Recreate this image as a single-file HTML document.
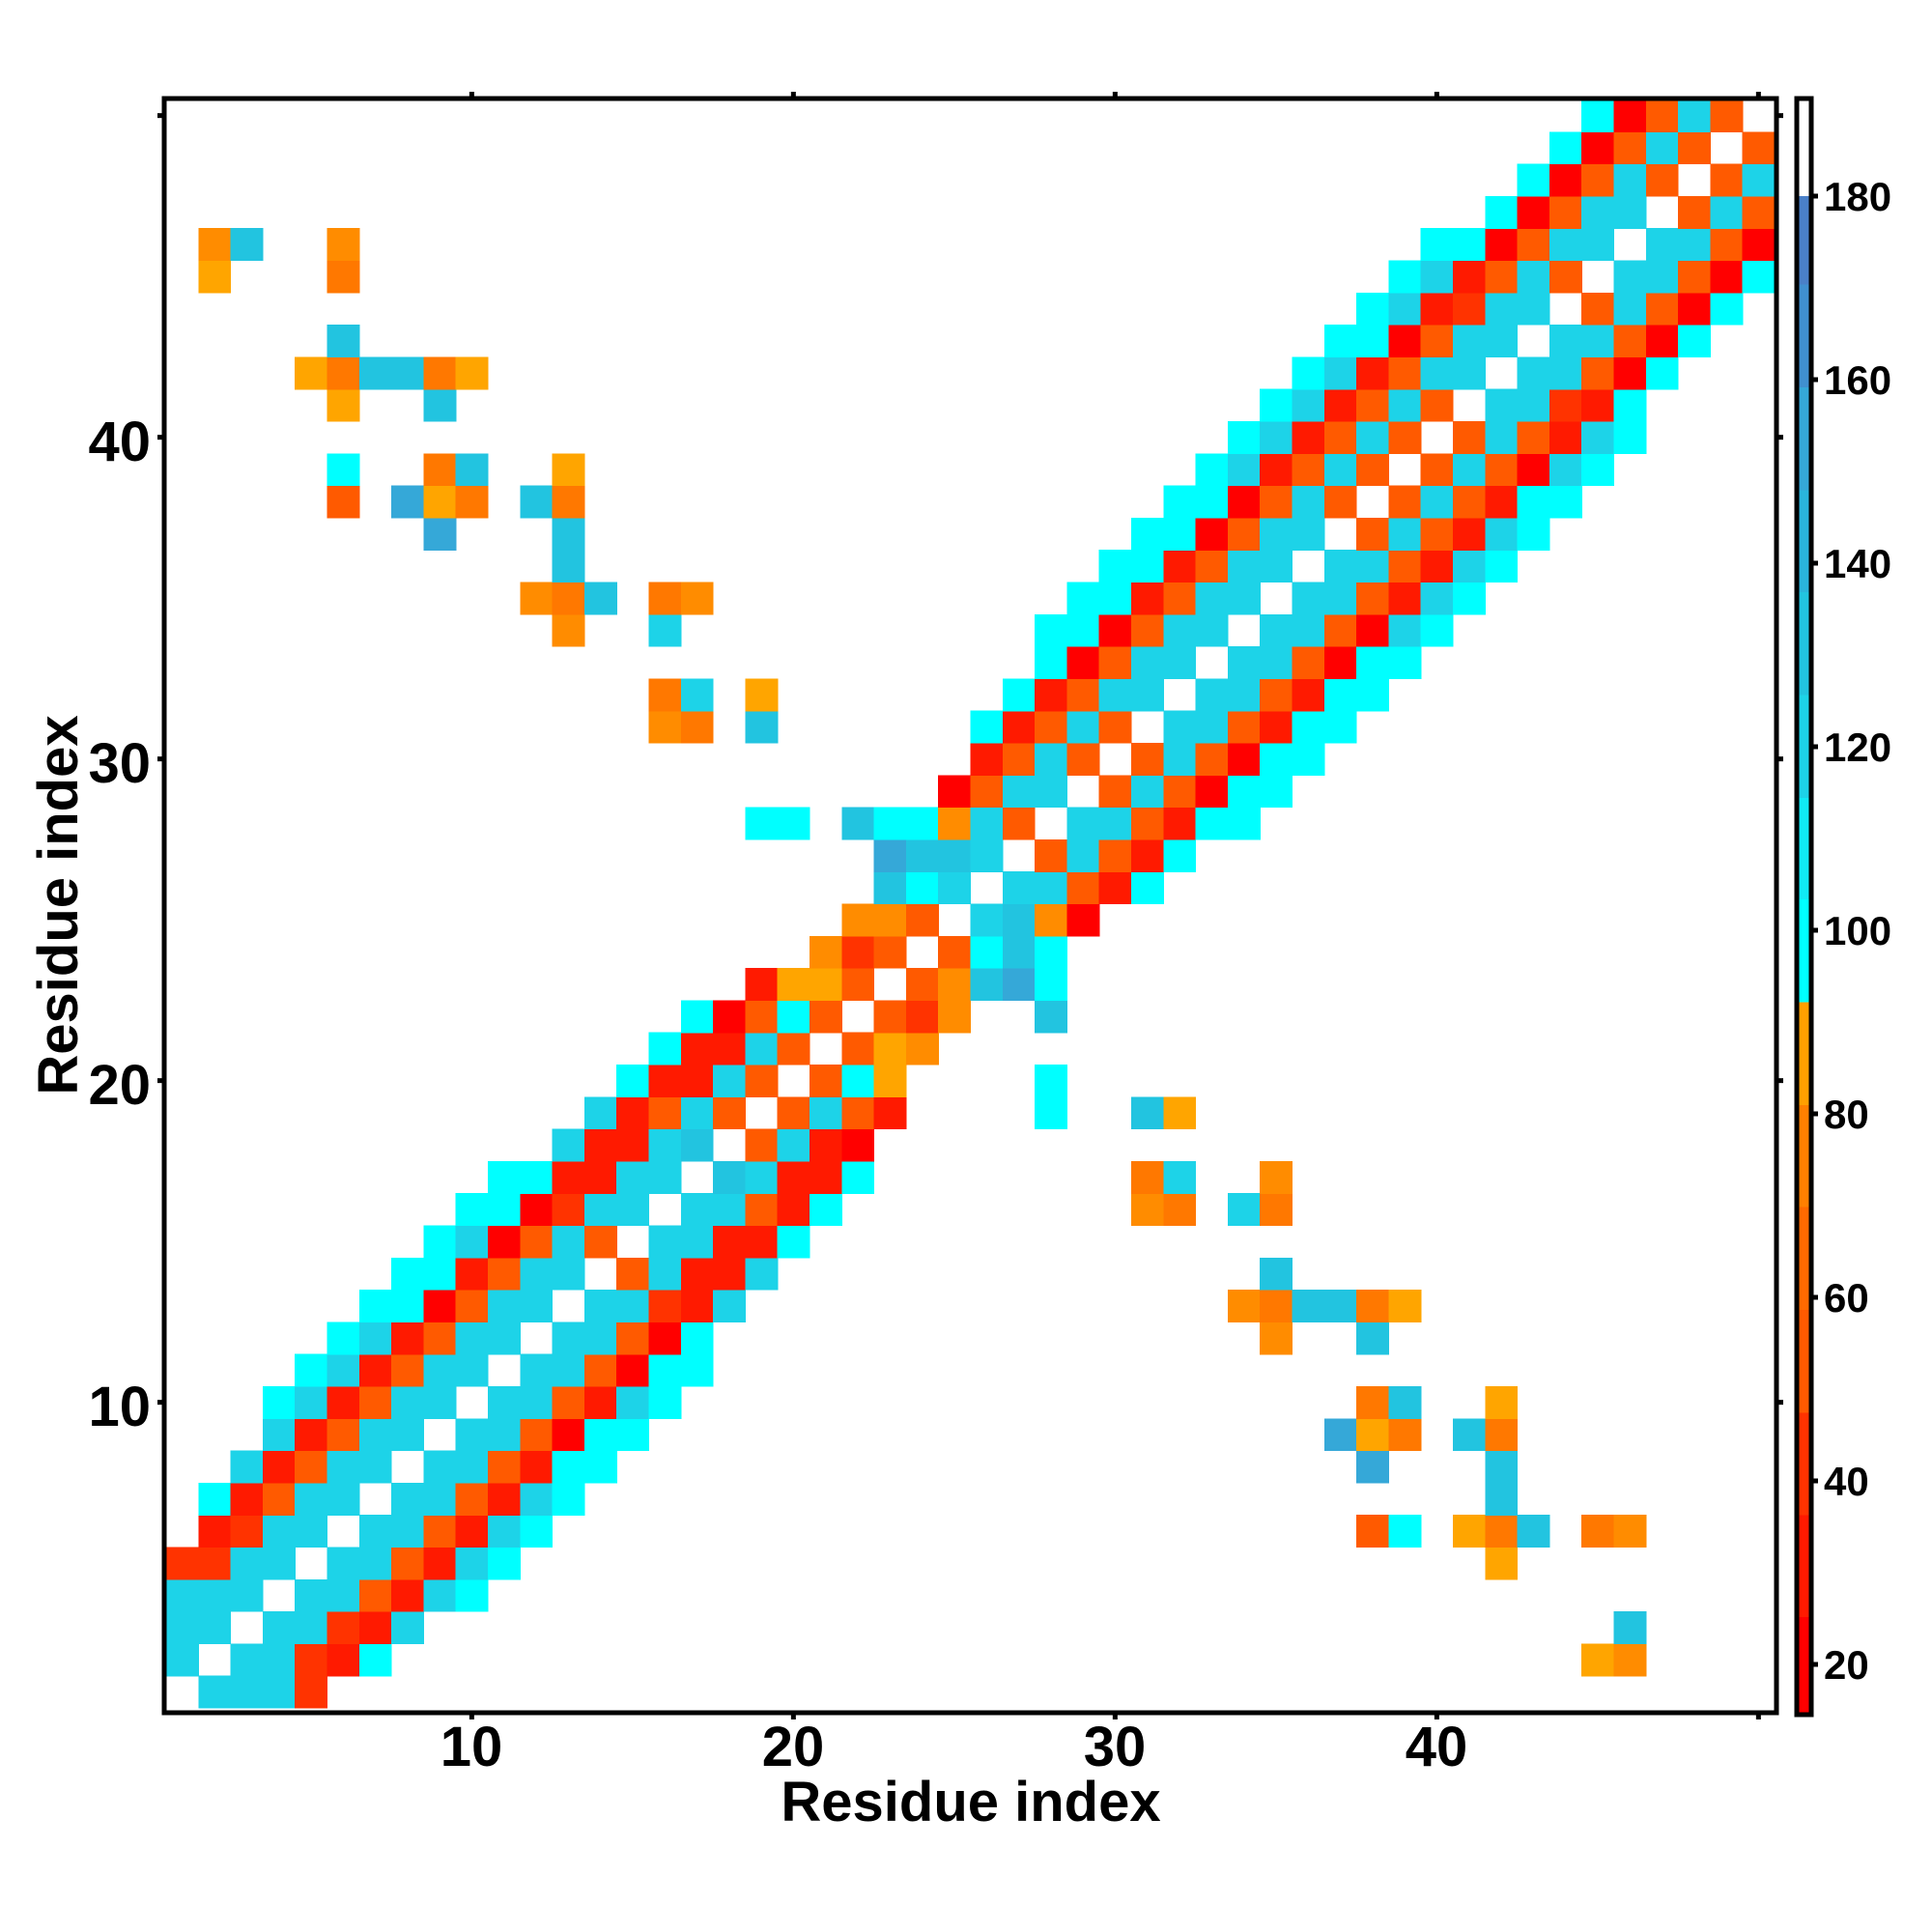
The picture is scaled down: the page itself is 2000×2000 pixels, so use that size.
<!DOCTYPE html>
<html><head><meta charset="utf-8"><style>
html,body{margin:0;padding:0;background:#fff;}
svg{display:block;}
text{font-family:"Liberation Sans",Arial,sans-serif;font-weight:bold;fill:#000;}
</style></head><body>
<svg id="s" width="2000" height="2000" viewBox="0 0 2000 2000" xmlns="http://www.w3.org/2000/svg">
<rect width="2000" height="2000" fill="#fff"/>
<g id="cells" shape-rendering="crispEdges"></g>
<g id="cbar" shape-rendering="crispEdges"></g>
<rect x="170" y="102" width="1669" height="1671" fill="none" stroke="#000" stroke-width="5"/>
<g stroke="#000" stroke-width="5" id="ticks"></g>
<rect x="1860" y="102" width="15" height="1673" fill="none" stroke="#000" stroke-width="5"/>
<g font-size="58" text-anchor="middle">
<text x="488" y="1828">10</text>
<text x="821" y="1828">20</text>
<text x="1154" y="1828">30</text>
<text x="1487" y="1828">40</text>
</g>
<g font-size="58" text-anchor="end">
<text x="156" y="1476">10</text>
<text x="156" y="1143">20</text>
<text x="156" y="810">30</text>
<text x="156" y="477">40</text>
</g>
<text x="1005" y="1885" font-size="58" text-anchor="middle">Residue index</text>
<text transform="translate(80,937) rotate(-90)" font-size="58" text-anchor="middle">Residue index</text>
<g font-size="42" text-anchor="start">
<text x="1888" y="222">180</text>
<text x="1888" y="412">160</text>
<text x="1888" y="602">140</text>
<text x="1888" y="792">120</text>
<text x="1888" y="982">100</text>
<text x="1888" y="1172">80</text>
<text x="1888" y="1362">60</text>
<text x="1888" y="1552">40</text>
<text x="1888" y="1742">20</text>
</g>
</svg>
<script>
var C={B:"#1dd3e8",A:"#00ffff",D:"#22c4e0",E:"#35a8d8",R0:"#ff0000",R1:"#ff1a00",R3:"#ff3300",O:"#ff5a00",P2:"#ff7800",P:"#ff8c00",Y:"#ffa500"};
var rows={
1:"2B 3B 4B 5R3",
2:"3B 4B 5R3 6R1 7A 45Y 46P",
3:"4B 5B 6R3 7R1 8B 46D",
4:"5B 6B 7O 8R1 9B 10A",
5:"6B 7B 8O 9R1 10B 11A 42Y",
6:"7B 8B 9O 10R1 11B 12A 38O 39A 41Y 42P2 43D 45P2 46P",
7:"8B 9B 10O 11R1 12B 13A 42D",
8:"9B 10B 11O 12R1 13A 14A 38E 42D",
9:"10B 11B 12O 13R0 14A 15A 37E 38Y 39P2 41D 42P2",
10:"11B 12B 13O 14R1 15B 16A 38P2 39D 42Y",
11:"12B 13B 14O 15R0 16A 17A",
12:"13B 14B 15O 16R0 17A 35P 38D",
13:"14B 15B 16R3 17R1 18B 34P 35P2 36D 37D 38P2 39Y",
14:"15O 16B 17R1 18R1 19B 35D",
15:"16B 17B 18R1 19R1 20A",
16:"17B 18B 19O 20R1 21A 31P 32P2 34B 35P2",
17:"18D 19B 20R1 21R1 22A 31P2 32B 35P",
18:"19O 20B 21R1 22R0",
19:"20O 21B 22O 23R1 28A 31D 32Y",
20:"21O 22A 23Y 28A",
21:"22O 23Y 24P",
22:"23O 24R3 25P 28D",
23:"24O 25P 26D 27E 28A",
24:"25O 26A 27D 28A",
25:"26B 27D 28P 29R0",
26:"27B 28B 29O 30R1 31A",
27:"28O 29B 30O 31R1 32A",
28:"29B 30B 31O 32R1 33A 34A",
29:"30O 31B 32O 33R0 34A 35A",
30:"31O 32B 33O 34R0 35A 36A",
31:"32B 33B 34O 35R1 36A 37A",
32:"33B 34B 35O 36R1 37A 38A",
33:"34B 35B 36O 37R0 38A 39A",
34:"35B 36B 37O 38R0 39B 40A",
35:"36B 37B 38O 39R1 40B 41A",
36:"37B 38B 39O 40R1 41B 42A",
37:"38O 39B 40O 41R1 42B 43A",
38:"39O 40B 41O 42R1 43A 44A",
39:"40O 41B 42O 43R0 44B 45A",
40:"41O 42B 43O 44R1 45B 46A",
41:"42B 43B 44R3 45R1 46A",
42:"43B 44B 45O 46R0 47A",
43:"44B 45B 46O 47R0 48A",
44:"45O 46B 47O 48R0 49A",
45:"46B 47B 48O 49R0 50A",
46:"47B 48B 49O 50R0",
47:"48O 49B 50O",
48:"49O 50B",
49:"50O"
};
var NS="http://www.w3.org/2000/svg";
var g=document.getElementById("cells");
var L=172,T=103,S=33.3;
function cell(x,y,col){var r=document.createElementNS(NS,"rect");
r.setAttribute("x",(L+(x-1)*S).toFixed(2));r.setAttribute("y",(T+(50-y)*S).toFixed(2));
r.setAttribute("width",S+0.6);r.setAttribute("height",S+0.6);r.setAttribute("fill",col);g.appendChild(r);}
for(var y in rows){rows[y].split(" ").forEach(function(t){var m=t.match(/^(\d+)([A-Z]\d?)$/);var x=+m[1];var c=C[m[2]];cell(x,+y,c);cell(+y,x,c);});}
var cb=document.getElementById("cbar");
var segs=[[14,25.2,"#ff0000"],[25.2,36.3,"#ff1a00"],[36.3,47.5,"#ff3300"],[47.5,58.7,"#ff5a00"],[58.7,69.9,"#ff6a00"],[69.9,81,"#ff8000"],[81,92.2,"#ffa000"],[92.2,103.4,"#00ffff"],[103.4,114.5,"#10eaf5"],[114.5,125.7,"#1dd3e8"],[125.7,136.9,"#22c4e0"],[136.9,148,"#2ab5dc"],[148,159.2,"#35a8d8"],[159.2,170.4,"#4090d0"],[170.4,180,"#4a80c8"]];
function yv(v){return 203+(180-v)*9.5;}
segs.forEach(function(s){var r=document.createElementNS(NS,"rect");var y1=yv(s[1]),y0=Math.min(yv(s[0]),1774);
r.setAttribute("x",1860);r.setAttribute("width",15);r.setAttribute("y",y1);r.setAttribute("height",y0-y1+0.5);r.setAttribute("fill",s[2]);cb.appendChild(r);});
var tk=document.getElementById("ticks");
function line(a,b,c,d){var l=document.createElementNS(NS,"line");l.setAttribute("x1",a);l.setAttribute("y1",b);l.setAttribute("x2",c);l.setAttribute("y2",d);tk.appendChild(l);}
[10,20,30,40,50].forEach(function(v){var x=L+(v-0.5)*S;var y=T+(50-v+0.5)*S;
line(x,1773,x,1780);line(x,102,x,95);line(170,y,163,y);line(1839,y,1846,y);});
for(var v=20;v<=180;v+=20){line(1875,yv(v),1882,yv(v));}
var tl=document.querySelectorAll("g[font-size='42'] text");
for(var i=0;i<tl.length;i++){tl[i].setAttribute("y",yv(180-20*i)+15);}
</script>
</body></html>
